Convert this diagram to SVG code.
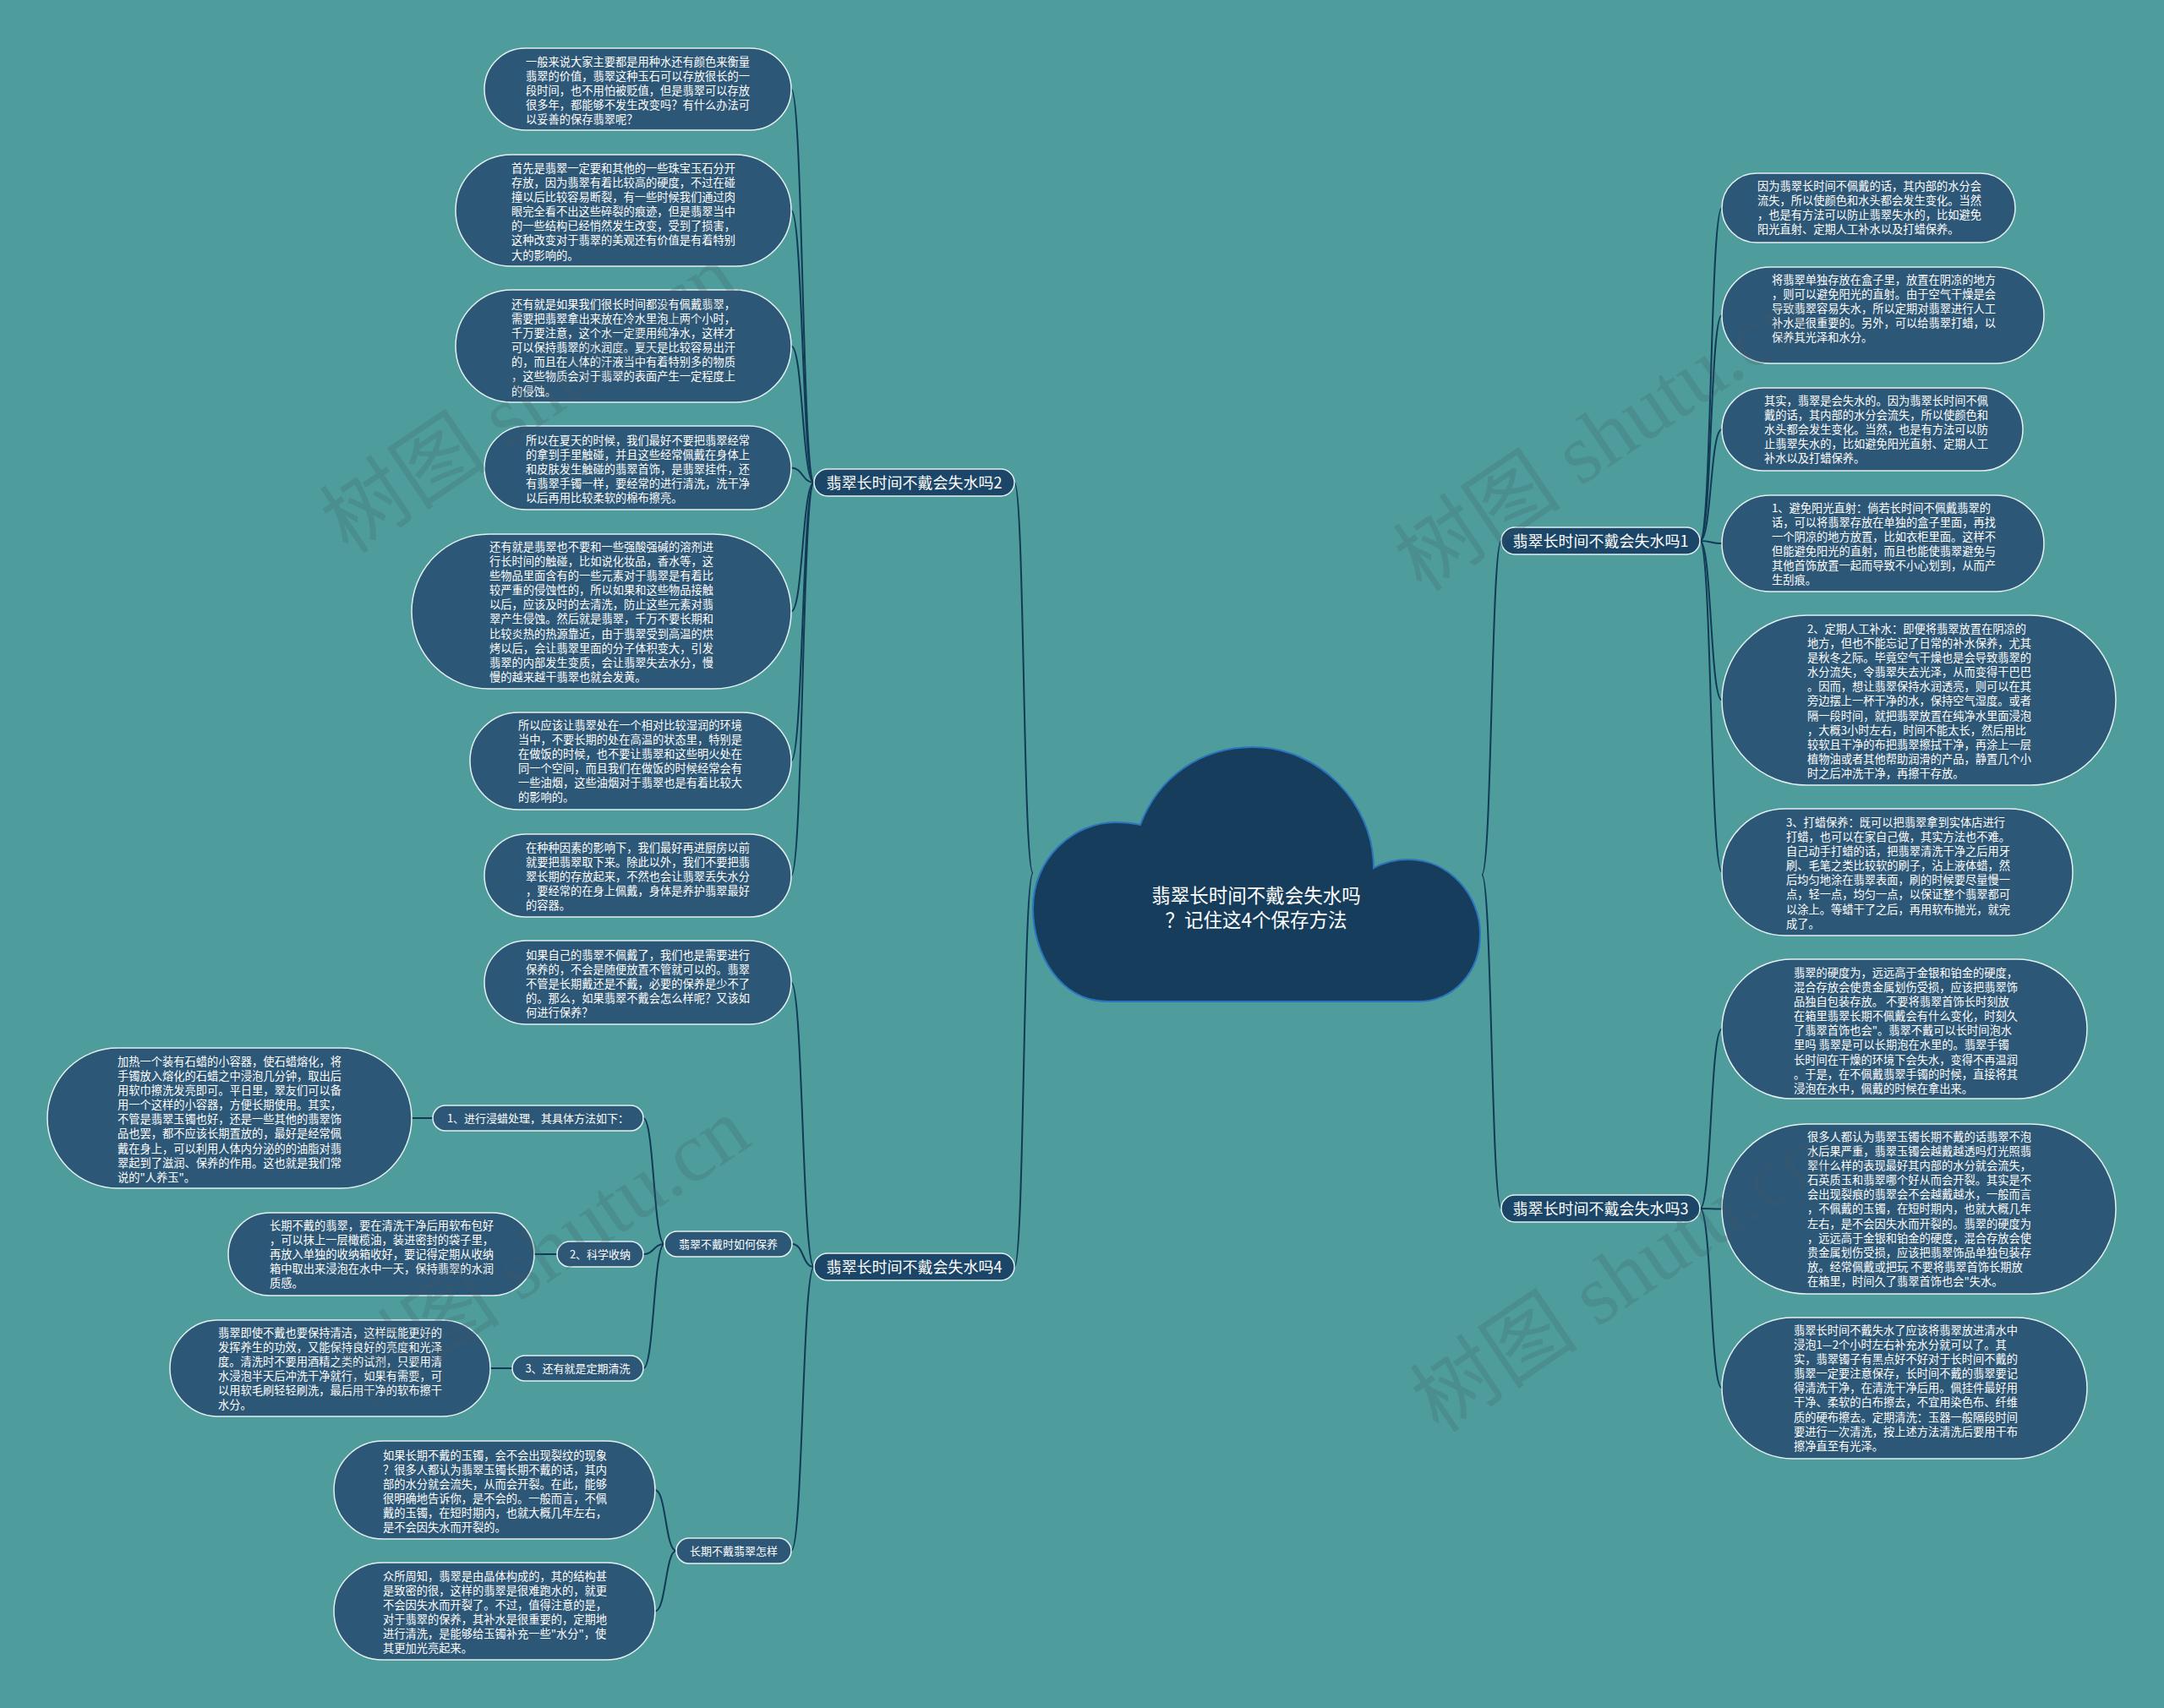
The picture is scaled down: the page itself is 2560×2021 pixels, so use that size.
<svg xmlns="http://www.w3.org/2000/svg" width="2560" height="2021" viewBox="0 0 2560 2021">
<style>
.n{fill:#2D5777;stroke:#E4F0F0;stroke-width:1.5}
.b{fill:#1C4668;stroke:#E4F0F0;stroke-width:1.5}
.t{font-family:"Noto Sans CJK SC","Noto Sans",sans-serif;font-size:13.25px;fill:#FFFFFF}
.l{font-family:"Noto Sans CJK SC","Noto Sans",sans-serif;font-size:13px;fill:#FFFFFF;text-anchor:middle}
.bl{font-family:"Noto Sans CJK SC","Noto Sans",sans-serif;font-size:18px;fill:#FFFFFF;text-anchor:middle}
.c{fill:none;stroke:#123A57;stroke-width:2}
.wm{font-family:"Liberation Serif","Noto Sans CJK SC",serif;font-size:100px;fill:#3F5A66;opacity:0.22}
</style>
<rect width="2560" height="2021" fill="#4E9D9C"/>
<g id="connectors">
<path class="c" d="M1222,1033 C1210,1033 1212,571 1200,571"/>
<path class="c" d="M1222,1033 C1210,1033 1212,1499 1200,1499"/>
<path class="c" d="M1753,1035 C1765,1035 1764,640 1776,640"/>
<path class="c" d="M1753,1035 C1765,1035 1764,1430 1776,1430"/>
<path class="c" d="M963,571 C949,571 950,105.5 936,105.5"/>
<path class="c" d="M963,571 C949,571 950,249 936,249"/>
<path class="c" d="M963,571 C949,571 950,409.5 936,409.5"/>
<path class="c" d="M963,571 C949,571 950,553.5 936,553.5"/>
<path class="c" d="M963,571 C949,571 950,723.5 936,723.5"/>
<path class="c" d="M963,571 C949,571 950,900.5 936,900.5"/>
<path class="c" d="M963,571 C949,571 950,1036 936,1036"/>
<path class="c" d="M963,1499 C949,1499 950,1162.5 936,1162.5"/>
<path class="c" d="M963,1499 C949,1499 951,1472 937,1472"/>
<path class="c" d="M963,1499 C949,1499 950,1835 936,1835"/>
<path class="c" d="M786,1472 C773,1472 774,1323 761,1323"/>
<path class="c" d="M786,1472 C773,1472 774,1484 761,1484"/>
<path class="c" d="M786,1472 C773,1472 774,1619 761,1619"/>
<path class="c" d="M512,1323 L487,1323"/>
<path class="c" d="M659,1484 L632,1484"/>
<path class="c" d="M606,1619 L580,1619"/>
<path class="c" d="M800,1835 C787,1835 788,1763 775,1763"/>
<path class="c" d="M800,1835 C787,1835 788,1906.5 775,1906.5"/>
<path class="c" d="M2011,640 C2025,640 2023,246 2037,246"/>
<path class="c" d="M2011,640 C2025,640 2023,373 2037,373"/>
<path class="c" d="M2011,640 C2025,640 2023,508 2037,508"/>
<path class="c" d="M2011,640 C2025,640 2023,643 2037,643"/>
<path class="c" d="M2011,640 C2025,640 2023,828.5 2037,828.5"/>
<path class="c" d="M2011,640 C2025,640 2023,1032 2037,1032"/>
<path class="c" d="M2011,1430 C2025,1430 2023,1217.5 2037,1217.5"/>
<path class="c" d="M2011,1430 C2025,1430 2023,1430.5 2037,1430.5"/>
<path class="c" d="M2011,1430 C2025,1430 2023,1642.5 2037,1642.5"/>
</g>
<g id="root">
<path d="M1310,1185 C1255,1185 1222,1130 1222,1075 C1222,1015 1270,973 1320,973 C1330,973 1340,974 1349,976 C1370,920 1420,884 1482,884 C1560,884 1625,950 1625,1027 C1640,1019 1655,1017 1666,1017 C1715,1017 1751,1060 1751,1105 C1751,1150 1720,1185 1677,1185 Z" fill="#173D5C" stroke="#2A74C0" stroke-width="2"/>
<text font-family="Noto Sans CJK SC,Noto Sans,sans-serif" font-size="22.5" fill="#FFFFFF" text-anchor="middle" x="1486" y="1068">翡翠长时间不戴会失水吗</text>
<text font-family="Noto Sans CJK SC,Noto Sans,sans-serif" font-size="22.5" fill="#FFFFFF" text-anchor="middle" x="1486" y="1097">？记住这4个保存方法</text>
</g>
<g id="branch2"><rect class="b" x="963" y="555" width="237" height="32" rx="16"/><text class="bl" x="1081.5" y="577.5">翡翠长时间不戴会失水吗2</text></g>
<g id="branch4"><rect class="b" x="963" y="1483" width="237" height="32" rx="16"/><text class="bl" x="1081.5" y="1505.5">翡翠长时间不戴会失水吗4</text></g>
<g id="branch1"><rect class="b" x="1776" y="624" width="235" height="32" rx="16"/><text class="bl" x="1893.5" y="646.5">翡翠长时间不戴会失水吗1</text></g>
<g id="branch3"><rect class="b" x="1776" y="1414" width="235" height="32" rx="16"/><text class="bl" x="1893.5" y="1436.5">翡翠长时间不戴会失水吗3</text></g>
<g id="L1"><rect class="n" x="573" y="57" width="363" height="97" rx="48.5"/><text class="t" x="622" y="77.6"><tspan x="622">一般来说大家主要都是用种水还有颜色来衡量</tspan><tspan x="622" dy="17.15">翡翠的价值，翡翠这种玉石可以存放很长的一</tspan><tspan x="622" dy="17.15">段时间，也不用怕被贬值，但是翡翠可以存放</tspan><tspan x="622" dy="17.15">很多年，都能够不发生改变吗？有什么办法可</tspan><tspan x="622" dy="17.15">以妥善的保存翡翠呢？</tspan></text></g>
<g id="L2"><rect class="n" x="539" y="183" width="397" height="132" rx="66"/><text class="t" x="605" y="203.6"><tspan x="605">首先是翡翠一定要和其他的一些珠宝玉石分开</tspan><tspan x="605" dy="17.15">存放，因为翡翠有着比较高的硬度，不过在碰</tspan><tspan x="605" dy="17.15">撞以后比较容易断裂，有一些时候我们通过肉</tspan><tspan x="605" dy="17.15">眼完全看不出这些碎裂的痕迹，但是翡翠当中</tspan><tspan x="605" dy="17.15">的一些结构已经悄然发生改变，受到了损害，</tspan><tspan x="605" dy="17.15">这种改变对于翡翠的美观还有价值是有着特别</tspan><tspan x="605" dy="17.15">大的影响的。</tspan></text></g>
<g id="L3"><rect class="n" x="539" y="343" width="397" height="133" rx="66.5"/><text class="t" x="605" y="364.6"><tspan x="605">还有就是如果我们很长时间都没有佩戴翡翠，</tspan><tspan x="605" dy="17.15">需要把翡翠拿出来放在冷水里泡上两个小时，</tspan><tspan x="605" dy="17.15">千万要注意，这个水一定要用纯净水，这样才</tspan><tspan x="605" dy="17.15">可以保持翡翠的水润度。夏天是比较容易出汗</tspan><tspan x="605" dy="17.15">的，而且在人体的汗液当中有着特别多的物质</tspan><tspan x="605" dy="17.15">，这些物质会对于翡翠的表面产生一定程度上</tspan><tspan x="605" dy="17.15">的侵蚀。</tspan></text></g>
<g id="L4"><rect class="n" x="573" y="504" width="363" height="99" rx="49.5"/><text class="t" x="622" y="525.6"><tspan x="622">所以在夏天的时候，我们最好不要把翡翠经常</tspan><tspan x="622" dy="17.15">的拿到手里触碰，并且这些经常佩戴在身体上</tspan><tspan x="622" dy="17.15">和皮肤发生触碰的翡翠首饰，是翡翠挂件，还</tspan><tspan x="622" dy="17.15">有翡翠手镯一样，要经常的进行清洗，洗干净</tspan><tspan x="622" dy="17.15">以后再用比较柔软的棉布擦亮。</tspan></text></g>
<g id="L5"><rect class="n" x="487" y="632" width="449" height="183" rx="91.5"/><text class="t" x="579" y="651.6"><tspan x="579">还有就是翡翠也不要和一些强酸强碱的溶剂进</tspan><tspan x="579" dy="17.15">行长时间的触碰，比如说化妆品，香水等，这</tspan><tspan x="579" dy="17.15">些物品里面含有的一些元素对于翡翠是有着比</tspan><tspan x="579" dy="17.15">较严重的侵蚀性的，所以如果和这些物品接触</tspan><tspan x="579" dy="17.15">以后，应该及时的去清洗，防止这些元素对翡</tspan><tspan x="579" dy="17.15">翠产生侵蚀。然后就是翡翠，千万不要长期和</tspan><tspan x="579" dy="17.15">比较炎热的热源靠近，由于翡翠受到高温的烘</tspan><tspan x="579" dy="17.15">烤以后，会让翡翠里面的分子体积变大，引发</tspan><tspan x="579" dy="17.15">翡翠的内部发生变质，会让翡翠失去水分，慢</tspan><tspan x="579" dy="17.15">慢的越来越干翡翠也就会发黄。</tspan></text></g>
<g id="L6"><rect class="n" x="556" y="843" width="380" height="115" rx="57.5"/><text class="t" x="613" y="862.6"><tspan x="613">所以应该让翡翠处在一个相对比较湿润的环境</tspan><tspan x="613" dy="17.15">当中，不要长期的处在高温的状态里，特别是</tspan><tspan x="613" dy="17.15">在做饭的时候，也不要让翡翠和这些明火处在</tspan><tspan x="613" dy="17.15">同一个空间，而且我们在做饭的时候经常会有</tspan><tspan x="613" dy="17.15">一些油烟，这些油烟对于翡翠也是有着比较大</tspan><tspan x="613" dy="17.15">的影响的。</tspan></text></g>
<g id="L7"><rect class="n" x="573" y="987" width="363" height="98" rx="49"/><text class="t" x="622" y="1007.6"><tspan x="622">在种种因素的影响下，我们最好再进厨房以前</tspan><tspan x="622" dy="17.15">就要把翡翠取下来。除此以外，我们不要把翡</tspan><tspan x="622" dy="17.15">翠长期的存放起来，不然也会让翡翠丢失水分</tspan><tspan x="622" dy="17.15">，要经常的在身上佩戴，身体是养护翡翠最好</tspan><tspan x="622" dy="17.15">的容器。</tspan></text></g>
<g id="L8"><rect class="n" x="573" y="1113" width="363" height="99" rx="49.5"/><text class="t" x="622" y="1134.6"><tspan x="622">如果自己的翡翠不佩戴了，我们也是需要进行</tspan><tspan x="622" dy="17.15">保养的，不会是随便放置不管就可以的。翡翠</tspan><tspan x="622" dy="17.15">不管是长期戴还是不戴，必要的保养是少不了</tspan><tspan x="622" dy="17.15">的。那么，如果翡翠不戴会怎么样呢？又该如</tspan><tspan x="622" dy="17.15">何进行保养？</tspan></text></g>
<g id="S0"><rect class="n" x="786" y="1457" width="151" height="30" rx="15"/><text class="l" x="861.5" y="1476.6">翡翠不戴时如何保养</text></g>
<g id="S1"><rect class="n" x="512" y="1308" width="249" height="30" rx="15"/><text class="l" x="636.5" y="1327.6">1、进行浸蜡处理，其具体方法如下：</text></g>
<g id="S2"><rect class="n" x="659" y="1469" width="102" height="30" rx="15"/><text class="l" x="710" y="1488.6">2、科学收纳</text></g>
<g id="S3"><rect class="n" x="606" y="1604" width="155" height="30" rx="15"/><text class="l" x="683.5" y="1623.6">3、还有就是定期清洗</text></g>
<g id="S4"><rect class="n" x="800" y="1820" width="136" height="30" rx="15"/><text class="l" x="868" y="1839.6">长期不戴翡翠怎样</text></g>
<g id="B1"><rect class="n" x="56" y="1240" width="431" height="166" rx="83"/><text class="t" x="139" y="1260.6"><tspan x="139">加热一个装有石蜡的小容器，使石蜡熔化，将</tspan><tspan x="139" dy="17.15">手镯放入熔化的石蜡之中浸泡几分钟，取出后</tspan><tspan x="139" dy="17.15">用软巾擦洗发亮即可。平日里，翠友们可以备</tspan><tspan x="139" dy="17.15">用一个这样的小容器，方便长期使用。其实，</tspan><tspan x="139" dy="17.15">不管是翡翠玉镯也好，还是一些其他的翡翠饰</tspan><tspan x="139" dy="17.15">品也罢，都不应该长期置放的，最好是经常佩</tspan><tspan x="139" dy="17.15">戴在身上，可以利用人体内分泌的的油脂对翡</tspan><tspan x="139" dy="17.15">翠起到了滋润、保养的作用。这也就是我们常</tspan><tspan x="139" dy="17.15">说的"人养玉"。</tspan></text></g>
<g id="B2"><rect class="n" x="270" y="1435" width="362" height="98" rx="49"/><text class="t" x="319" y="1454.6"><tspan x="319">长期不戴的翡翠，要在清洗干净后用软布包好</tspan><tspan x="319" dy="17.15">，可以抹上一层橄榄油，装进密封的袋子里，</tspan><tspan x="319" dy="17.15">再放入单独的收纳箱收好，要记得定期从收纳</tspan><tspan x="319" dy="17.15">箱中取出来浸泡在水中一天，保持翡翠的水润</tspan><tspan x="319" dy="17.15">质感。</tspan></text></g>
<g id="B3"><rect class="n" x="201" y="1562" width="379" height="114" rx="57"/><text class="t" x="258" y="1581.6"><tspan x="258">翡翠即使不戴也要保持清洁，这样既能更好的</tspan><tspan x="258" dy="17.15">发挥养生的功效，又能保持良好的亮度和光泽</tspan><tspan x="258" dy="17.15">度。清洗时不要用酒精之类的试剂，只要用清</tspan><tspan x="258" dy="17.15">水浸泡半天后冲洗干净就行，如果有需要，可</tspan><tspan x="258" dy="17.15">以用软毛刷轻轻刷洗，最后用干净的软布擦干</tspan><tspan x="258" dy="17.15">水分。</tspan></text></g>
<g id="B4"><rect class="n" x="395" y="1705" width="380" height="116" rx="58"/><text class="t" x="453" y="1726.6"><tspan x="453">如果长期不戴的玉镯，会不会出现裂纹的现象</tspan><tspan x="453" dy="17.15">？很多人都认为翡翠玉镯长期不戴的话，其内</tspan><tspan x="453" dy="17.15">部的水分就会流失，从而会开裂。在此，能够</tspan><tspan x="453" dy="17.15">很明确地告诉你，是不会的。一般而言，不佩</tspan><tspan x="453" dy="17.15">戴的玉镯，在短时期内，也就大概几年左右，</tspan><tspan x="453" dy="17.15">是不会因失水而开裂的。</tspan></text></g>
<g id="B5"><rect class="n" x="395" y="1849" width="380" height="115" rx="57.5"/><text class="t" x="453" y="1869.6"><tspan x="453">众所周知，翡翠是由晶体构成的，其的结构甚</tspan><tspan x="453" dy="17.15">是致密的很，这样的翡翠是很难跑水的，就更</tspan><tspan x="453" dy="17.15">不会因失水而开裂了。不过，值得注意的是，</tspan><tspan x="453" dy="17.15">对于翡翠的保养，其补水是很重要的，定期地</tspan><tspan x="453" dy="17.15">进行清洗，是能够给玉镯补充一些"水分"，使</tspan><tspan x="453" dy="17.15">其更加光亮起来。</tspan></text></g>
<g id="R1"><rect class="n" x="2037" y="205" width="347" height="82" rx="41"/><text class="t" x="2079" y="224.6"><tspan x="2079">因为翡翠长时间不佩戴的话，其内部的水分会</tspan><tspan x="2079" dy="17.15">流失，所以使颜色和水头都会发生变化。当然</tspan><tspan x="2079" dy="17.15">，也是有方法可以防止翡翠失水的，比如避免</tspan><tspan x="2079" dy="17.15">阳光直射、定期人工补水以及打蜡保养。</tspan></text></g>
<g id="R2"><rect class="n" x="2037" y="316" width="381" height="114" rx="57"/><text class="t" x="2096" y="335.6"><tspan x="2096">将翡翠单独存放在盒子里，放置在阴凉的地方</tspan><tspan x="2096" dy="17.15">，则可以避免阳光的直射。由于空气干燥是会</tspan><tspan x="2096" dy="17.15">导致翡翠容易失水，所以定期对翡翠进行人工</tspan><tspan x="2096" dy="17.15">补水是很重要的。另外，可以给翡翠打蜡，以</tspan><tspan x="2096" dy="17.15">保养其光泽和水分。</tspan></text></g>
<g id="R3"><rect class="n" x="2037" y="459" width="356" height="98" rx="49"/><text class="t" x="2087" y="478.6"><tspan x="2087">其实，翡翠是会失水的。因为翡翠长时间不佩</tspan><tspan x="2087" dy="17.15">戴的话，其内部的水分会流失，所以使颜色和</tspan><tspan x="2087" dy="17.15">水头都会发生变化。当然，也是有方法可以防</tspan><tspan x="2087" dy="17.15">止翡翠失水的，比如避免阳光直射、定期人工</tspan><tspan x="2087" dy="17.15">补水以及打蜡保养。</tspan></text></g>
<g id="R4"><rect class="n" x="2037" y="586" width="381" height="114" rx="57"/><text class="t" x="2096" y="605.6"><tspan x="2096">1、避免阳光直射：倘若长时间不佩戴翡翠的</tspan><tspan x="2096" dy="17.15">话，可以将翡翠存放在单独的盒子里面，再找</tspan><tspan x="2096" dy="17.15">一个阴凉的地方放置，比如衣柜里面。这样不</tspan><tspan x="2096" dy="17.15">但能避免阳光的直射，而且也能使翡翠避免与</tspan><tspan x="2096" dy="17.15">其他首饰放置一起而导致不小心划到，从而产</tspan><tspan x="2096" dy="17.15">生刮痕。</tspan></text></g>
<g id="R5"><rect class="n" x="2037" y="728" width="466" height="201" rx="100.5"/><text class="t" x="2138" y="748.6"><tspan x="2138">2、定期人工补水：即便将翡翠放置在阴凉的</tspan><tspan x="2138" dy="17.15">地方，但也不能忘记了日常的补水保养，尤其</tspan><tspan x="2138" dy="17.15">是秋冬之际。毕竟空气干燥也是会导致翡翠的</tspan><tspan x="2138" dy="17.15">水分流失，令翡翠失去光泽，从而变得干巴巴</tspan><tspan x="2138" dy="17.15">。因而，想让翡翠保持水润透亮，则可以在其</tspan><tspan x="2138" dy="17.15">旁边摆上一杯干净的水，保持空气湿度。或者</tspan><tspan x="2138" dy="17.15">隔一段时间，就把翡翠放置在纯净水里面浸泡</tspan><tspan x="2138" dy="17.15">，大概3小时左右，时间不能太长，然后用比</tspan><tspan x="2138" dy="17.15">较软且干净的布把翡翠擦拭干净，再涂上一层</tspan><tspan x="2138" dy="17.15">植物油或者其他帮助润滑的产品，静置几个小</tspan><tspan x="2138" dy="17.15">时之后冲洗干净，再擦干存放。</tspan></text></g>
<g id="R6"><rect class="n" x="2037" y="957" width="415" height="150" rx="75"/><text class="t" x="2113" y="977.6"><tspan x="2113">3、打蜡保养：既可以把翡翠拿到实体店进行</tspan><tspan x="2113" dy="17.15">打蜡，也可以在家自己做，其实方法也不难。</tspan><tspan x="2113" dy="17.15">自己动手打蜡的话，把翡翠清洗干净之后用牙</tspan><tspan x="2113" dy="17.15">刷、毛笔之类比较软的刷子，沾上液体蜡，然</tspan><tspan x="2113" dy="17.15">后均匀地涂在翡翠表面，刷的时候要尽量慢一</tspan><tspan x="2113" dy="17.15">点，轻一点，均匀一点，以保证整个翡翠都可</tspan><tspan x="2113" dy="17.15">以涂上。等蜡干了之后，再用软布抛光，就完</tspan><tspan x="2113" dy="17.15">成了。</tspan></text></g>
<g id="R7"><rect class="n" x="2037" y="1135" width="432" height="165" rx="82.5"/><text class="t" x="2122" y="1155.6"><tspan x="2122">翡翠的硬度为，远远高于金银和铂金的硬度，</tspan><tspan x="2122" dy="17.15">混合存放会使贵金属划伤受损，应该把翡翠饰</tspan><tspan x="2122" dy="17.15">品独自包装存放。 不要将翡翠首饰长时刻放</tspan><tspan x="2122" dy="17.15">在箱里翡翠长期不佩戴会有什么变化，时刻久</tspan><tspan x="2122" dy="17.15">了翡翠首饰也会"。翡翠不戴可以长时间泡水</tspan><tspan x="2122" dy="17.15">里吗 翡翠是可以长期泡在水里的。翡翠手镯</tspan><tspan x="2122" dy="17.15">长时间在干燥的环境下会失水，变得不再温润</tspan><tspan x="2122" dy="17.15">。于是，在不佩戴翡翠手镯的时候，直接将其</tspan><tspan x="2122" dy="17.15">浸泡在水中，佩戴的时候在拿出来。</tspan></text></g>
<g id="R8"><rect class="n" x="2037" y="1330" width="466" height="201" rx="100.5"/><text class="t" x="2138" y="1349.6"><tspan x="2138">很多人都认为翡翠玉镯长期不戴的话翡翠不泡</tspan><tspan x="2138" dy="17.15">水后果严重，翡翠玉镯会越戴越透吗灯光照翡</tspan><tspan x="2138" dy="17.15">翠什么样的表现最好其内部的水分就会流失，</tspan><tspan x="2138" dy="17.15">石英质玉和翡翠哪个好从而会开裂。其实是不</tspan><tspan x="2138" dy="17.15">会出现裂痕的翡翠会不会越戴越水，一般而言</tspan><tspan x="2138" dy="17.15">，不佩戴的玉镯，在短时期内，也就大概几年</tspan><tspan x="2138" dy="17.15">左右，是不会因失水而开裂的。翡翠的硬度为</tspan><tspan x="2138" dy="17.15">，远远高于金银和铂金的硬度，混合存放会使</tspan><tspan x="2138" dy="17.15">贵金属划伤受损，应该把翡翠饰品单独包装存</tspan><tspan x="2138" dy="17.15">放。经常佩戴或把玩 不要将翡翠首饰长期放</tspan><tspan x="2138" dy="17.15">在箱里，时间久了翡翠首饰也会"失水。</tspan></text></g>
<g id="R9"><rect class="n" x="2037" y="1559" width="432" height="167" rx="83.5"/><text class="t" x="2122" y="1578.6"><tspan x="2122">翡翠长时间不戴失水了应该将翡翠放进清水中</tspan><tspan x="2122" dy="17.15">浸泡1—2个小时左右补充水分就可以了。其</tspan><tspan x="2122" dy="17.15">实，翡翠镯子有黑点好不好对于长时间不戴的</tspan><tspan x="2122" dy="17.15">翡翠一定要注意保存，长时间不戴的翡翠要记</tspan><tspan x="2122" dy="17.15">得清洗干净，在清洗干净后用。佩挂件最好用</tspan><tspan x="2122" dy="17.15">干净、柔软的白布擦去，不宜用染色布、纤维</tspan><tspan x="2122" dy="17.15">质的硬布擦去。定期清洗：玉器一般隔段时间</tspan><tspan x="2122" dy="17.15">要进行一次清洗，按上述方法清洗后要用干布</tspan><tspan x="2122" dy="17.15">擦净直至有光泽。</tspan></text></g>
<g id="watermarks">
<text class="wm" text-anchor="middle" transform="translate(645,500) rotate(-34)">树图 shutu.cn</text>
<text class="wm" text-anchor="middle" transform="translate(1915,545) rotate(-34)">树图 shutu.cn</text>
<text class="wm" text-anchor="middle" transform="translate(660,1510) rotate(-34)">树图 shutu.cn</text>
<text class="wm" text-anchor="middle" transform="translate(1935,1540) rotate(-34)">树图 shutu.cn</text>
</g>
</svg>
